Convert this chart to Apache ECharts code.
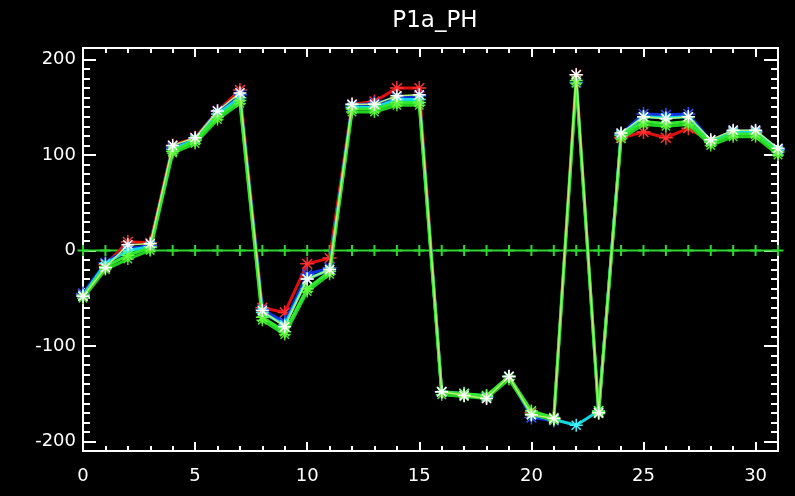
<!DOCTYPE html>
<html><head><meta charset="utf-8">
<script src="https://cdn.jsdelivr.net/npm/echarts@6/dist/echarts.min.js"></script>
<style>html,body{margin:0;padding:0;background:#000}#c{width:795px;height:496px}</style>
</head><body><div id="c"></div>
<script>
const titleText = 'P1a_PH';
const xValues = [0,1,2,3,4,5,6,7,8,9,10,11,12,13,14,15,16,17,18,19,20,21,22,23,24,25,26,27,28,29,30,31];
const yTicks = [-200,-100,0,100,200];
const xTicks = [0,5,10,15,20,25,30];
const redVals   = [-46,-15,9,8,110,118,146,168,-60,-65,-14,-8,153,156,170,170,-148,-150,-153,-132,-170,-176,184,-170,118,124,118,128,114,124,124,106];
const blueVals  = [-45,-13,2,5,108,117,146,163,-62,-75,-25,-18,152,154,160,162,-148,-150,-154,-132,-175,-178,176,-170,122,143,142,143,115,125,125,106];
const cyanVals  = [-47,-14,0,4,106,116,143,160,-65,-78,-30,-20,150,150,158,158,-148,-150,-153,-132,-172,-177,-183,-168,121,140,139,140,114,124,124,105];
const greenVals = [-48,-17,-5,3,104,115,140,157,-70,-85,-40,-22,148,148,155,155,-148,-150,-152,-132,-168,-175,178,-168,120,135,133,135,113,122,122,103];
const green2Vals= [-50,-20,-9,0,102,112,137,154,-73,-88,-43,-25,145,145,152,152,-151,-153,-155,-135,-171,-178,175,-171,117,132,130,132,110,119,119,100];
const starVals  = [-48,-18,6,7,110,118,146,165,-63,-80,-30,-20,153,153,162,163,-148,-152,-155,-132,-172,-176,184,-170,123,140,138,140,116,126,126,107];
const zeroVals  = xValues.map(() => 0);

const yMin = -210, yMax = 212;
const yMinor = [];
for (let v = -200; v <= 200; v += 10) if (v % 100 !== 0) yMinor.push(v);

const ast = 'path://M5,0L5,10M0,5L10,5M1.5,1.5L8.5,8.5M1.5,8.5L8.5,1.5';
const plus = 'path://M0,5L10,5M5,0L5,10';
const pairs = vals => xValues.map((x, i) => [x, vals[i]]);

function lineSeries(vals, color, width, symColor, symSize, z) {
  return {
    type: 'line', data: pairs(vals), z: z, silent: true,
    lineStyle: {color: color, width: width},
    symbol: ast, symbolSize: symSize, showSymbol: true,
    itemStyle: {color: 'rgba(0,0,0,0)', borderColor: symColor, borderWidth: 1.5}
  };
}

const white = '#ffffff';
const axisTxt = {color: white, fontFamily: 'DejaVu Sans', fontSize: 18};
const yAxisBase = (pos, vals, len, label) => ({
  type: 'value', min: yMin, max: yMax, position: pos,
  splitLine: {show: false},
  axisLine: {show: true, onZero: false, lineStyle: {color: white, width: 2}},
  axisTick: {show: true, inside: true, length: len, customValues: vals, lineStyle: {color: white, width: 2}},
  axisLabel: label ? Object.assign({show: true, customValues: vals, margin: 7}, axisTxt) : {show: false}
});
const xAxisBase = (pos, label) => ({
  type: 'value', min: 0, max: 31, interval: 5, position: pos,
  splitLine: {show: false},
  axisLine: {show: true, onZero: false, lineStyle: {color: white, width: 2}},
  axisTick: {show: true, inside: true, length: 9, lineStyle: {color: white, width: 2}},
  minorTick: {show: true, splitNumber: 5, length: 5, lineStyle: {color: white, width: 2}},
  axisLabel: label ? Object.assign({show: true, margin: 16, customValues: xTicks}, axisTxt) : {show: false}
});

const chart = echarts.init(document.getElementById('c'), null, {renderer: 'canvas'});
chart.setOption({
  backgroundColor: '#000',
  animation: false,
  title: {text: titleText, left: 430, top: 5, textAlign: 'center',
    textStyle: {color: white, fontFamily: 'DejaVu Sans', fontSize: 23, fontWeight: 'normal'}},
  grid: {left: 83, right: 17, top: 48, bottom: 45},
  xAxis: [xAxisBase('bottom', true), xAxisBase('top', false)],
  yAxis: [
    yAxisBase('left', yTicks, 13, true),
    yAxisBase('left', yMinor, 7, false),
    yAxisBase('right', yTicks, 14, false),
    yAxisBase('right', yMinor, 7, false)
  ],
  series: [
    {type: 'line', data: pairs(zeroVals), z: 2, silent: true,
     lineStyle: {color: '#2fd62f', width: 2}, symbol: plus, symbolSize: 11,
     itemStyle: {color: 'rgba(0,0,0,0)', borderColor: '#2fd62f', borderWidth: 2}},
    lineSeries(redVals, '#e01010', 3, '#ff3030', 14, 3),
    lineSeries(blueVals, '#1030e0', 3, '#3050ff', 14, 4),
    lineSeries(cyanVals, '#10d8e0', 3, '#40f0ff', 13, 5),
    lineSeries(green2Vals, '#22d022', 3, '#50e030', 12, 6),
    lineSeries(greenVals, '#30e830', 3, '#60ff40', 13, 6),
    lineSeries(starVals, '#b8f070', 1.5, '#ffffff', 13, 7)
  ]
});
</script></body></html>
